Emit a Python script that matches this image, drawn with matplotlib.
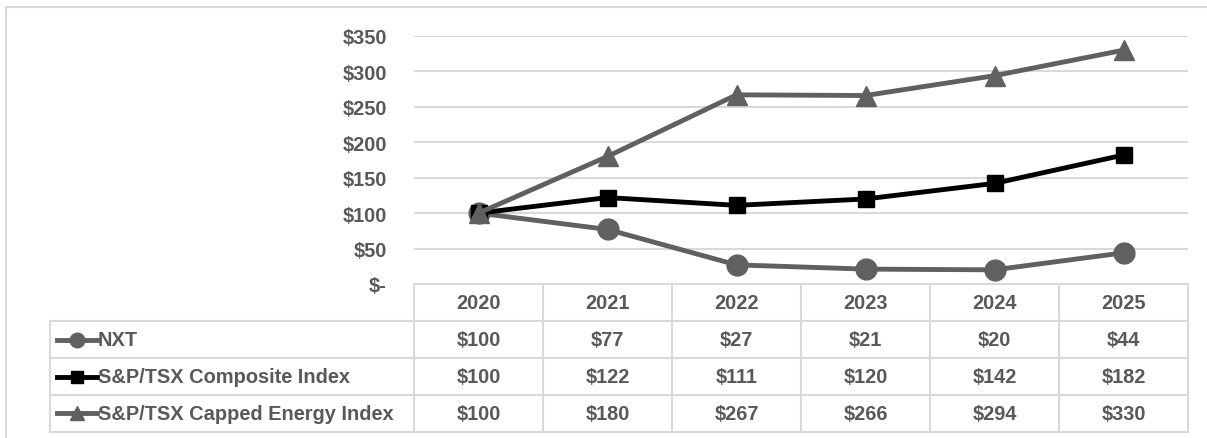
import numpy as np
import matplotlib
matplotlib.use("Agg")
import matplotlib.pyplot as plt

# Data
years = ["2020", "2021", "2022", "2023", "2024", "2025"]
nxt = [100, 77, 27, 21, 20, 44]
composite = [100, 122, 111, 120, 142, 182]
energy = [100, 180, 267, 266, 294, 330]
series_names = ["NXT", "S&P/TSX Composite Index", "S&P/TSX Capped Energy Index"]
yticks = [0, 50, 100, 150, 200, 250, 300, 350]

# Styles
W, H = 1207, 439
gray = "#606060"
txt = "#595959"
grid = "#d9d9d9"
styles = [
    dict(color=gray, marker="o", ms=15),
    dict(color="black", marker="s", ms=11.5),
    dict(color=gray, marker="^", ms=14.5),
]
plt.rcParams["font.family"] = ["Liberation Sans", "DejaVu Sans"]
plt.rcParams["font.weight"] = "bold"
fs = 14.4

fig = plt.figure(figsize=(W / 100, H / 100), dpi=100)

# layout in pixels
px_left, px_right = 414, 1188
px_top, px_zero = 37, 285
row_edges = [285, 322, 359, 396, 433]
tab_left = 50

# overlay axes in pixel coordinates for frame and table
ov = fig.add_axes([0, 0, 1, 1])
ov.set_xlim(0, W)
ov.set_ylim(H, 0)
ov.axis("off")

# outer frame
ov.plot([6, 6, W + 5], [H + 5, 8, 8], color=grid, lw=1.5, clip_on=False)

# plot area
ax = fig.add_axes([px_left / W, 1 - px_zero / H, (px_right - px_left) / W,
                   (px_zero - px_top) / H])
ax.set_xlim(0, len(years))
ax.set_ylim(0, 350)
for s in ax.spines.values():
    s.set_visible(False)
ax.set_xticks([])
ax.set_yticks(yticks)
ax.set_yticklabels(["$-" if v == 0 else f"${v}" for v in yticks],
                   fontsize=fs, color=txt, fontweight="bold")
ax.tick_params(axis="y", length=0, pad=19.5)
ax.yaxis.grid(True, color=grid, lw=1.5)
ax.set_axisbelow(True)
ax.patch.set_alpha(0)

x = np.arange(len(years)) + 0.5
for vals, st in zip([nxt, composite, energy], styles):
    ax.plot(x, vals, color=st["color"], lw=3.5, marker=st["marker"],
            ms=st["ms"], mec=st["color"], mfc=st["color"], clip_on=False, zorder=3)

# table
col_w = (px_right - px_left) / len(years)
col_edges = [px_left + i * col_w for i in range(len(years) + 1)]
lc = dict(color=grid, lw=1.5)
ov.plot([px_left, px_right], [row_edges[0]] * 2, **lc)
for y in row_edges[1:]:
    ov.plot([tab_left, px_right], [y, y], **lc)
for xe in col_edges:
    ov.plot([xe, xe], [row_edges[0], row_edges[-1]], **lc)
ov.plot([tab_left, tab_left], [row_edges[1], row_edges[-1]], **lc)

def mid(a, b):
    return (a + b) / 2

for i, yr in enumerate(years):
    ov.text(mid(col_edges[i], col_edges[i + 1]), mid(row_edges[0], row_edges[1]), yr,
            ha="center", va="center", fontsize=fs, color=txt, fontweight="bold")

for r, (name, vals, st) in enumerate(zip(series_names, [nxt, composite, energy], styles)):
    yc = mid(row_edges[r + 1], row_edges[r + 2])
    ov.plot([57, 97], [yc, yc], color=st["color"], lw=3.5)
    ov.plot([77], [yc], marker=st["marker"], color=st["color"], ms=st["ms"] * 0.7)
    ov.text(98, yc, name, ha="left", va="center", fontsize=fs, color=txt,
            fontweight="bold")
    for i, v in enumerate(vals):
        ov.text(mid(col_edges[i], col_edges[i + 1]), yc, f"${v}",
                ha="center", va="center", fontsize=fs, color=txt, fontweight="bold")

fig.savefig("out.png", dpi=100)
